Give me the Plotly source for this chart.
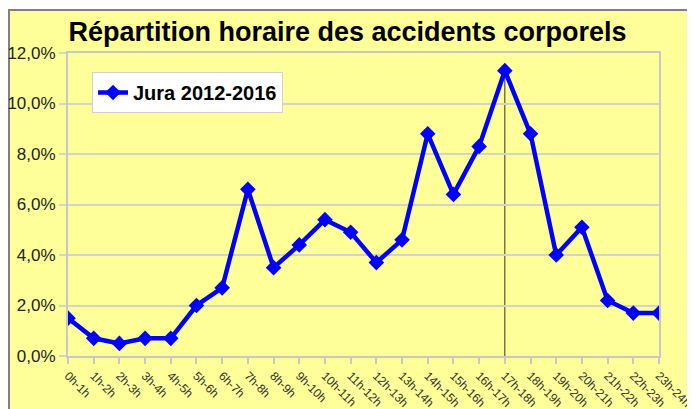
import plotly.graph_objects as go

categories = ["0h-1h", "1h-2h", "2h-3h", "3h-4h", "4h-5h", "5h-6h", "6h-7h", "7h-8h",
              "8h-9h", "9h-10h", "10h-11h", "11h-12h", "12h-13h", "13h-14h", "14h-15h",
              "15h-16h", "16h-17h", "17h-18h", "18h-19h", "19h-20h", "20h-21h", "21h-22h",
              "22h-23h", "23h-24h"]
values = [1.5, 0.7, 0.5, 0.7, 0.7, 2.0, 2.7, 6.6, 3.5, 4.4, 5.4, 4.9, 3.7, 4.6, 8.8,
          6.4, 8.3, 11.3, 8.8, 4.0, 5.1, 2.2, 1.7, 1.7]
series_name = "Jura 2012-2016"
title_text = "Répartition horaire des accidents corporels"
y_ticks = [0, 2, 4, 6, 8, 10, 12]
y_ticklabels = ["0,0%", "2,0%", "4,0%", "6,0%", "8,0%", "10,0%", "12,0%"]

W, H = 695, 409
OFF = 8  # page body margin offset
ML, MT = 68 - OFF, 53 - OFF
pw, ph = 591, 303
MR = W - ML - pw
MB = H - MT - ph

def px_x(p):
    return (p - OFF - ML) / pw

def px_y(p):
    return (MT + ph - (p - OFF)) / ph

peak_idx = values.index(max(values))

fig = go.Figure()
fig.add_trace(go.Scatter(
    x=categories, y=values, mode="lines+markers", name="<b>" + series_name + "</b>",
    line=dict(color="#0000ff", width=4.5),
    marker=dict(symbol="diamond", size=12, color="#0000ff"),
))

shapes = [
    dict(type="rect", xref="paper", yref="paper", layer="below",
         x0=px_x(8), x1=px_x(W + 20), y0=px_y(H + 20), y1=px_y(10),
         fillcolor="#ffff99", line=dict(width=0)),
    dict(type="line", xref="paper", yref="paper", layer="below",
         x0=px_x(9), x1=px_x(9), y0=px_y(H + 20), y1=px_y(10),
         line=dict(color="#808080", width=2)),
    dict(type="line", xref="paper", yref="paper", layer="below",
         x0=px_x(8), x1=px_x(W + 20), y0=px_y(10), y1=px_y(10),
         line=dict(color="#808080", width=2)),
    dict(type="line", xref="x", yref="y", layer="below",
         x0=categories[peak_idx], x1=categories[peak_idx], y0=-0.45, y1=values[peak_idx],
         line=dict(color="#333333", width=1)),
]

fig.update_layout(
    width=W, height=H,
    margin=dict(l=ML, r=MR, t=MT, b=MB, autoexpand=False),
    paper_bgcolor="white",
    plot_bgcolor="rgba(0,0,0,0)",
    shapes=shapes,
    font=dict(family="Liberation Sans, Arial, sans-serif", color="#222222"),
    title=dict(text="<b>" + title_text + "</b>", x=(347.5 - OFF) / W, xanchor="center",
               xref="container", y=1 - (32 - OFF) / H, yanchor="middle",
               font=dict(size=27, color="#000000")),
    showlegend=True,
    legend=dict(x=px_x(92), y=px_y(72), xanchor="left", yanchor="top",
                bgcolor="white", bordercolor="#d0d0d0", borderwidth=1,
                font=dict(size=20, color="#000000", family="Liberation Sans, Arial, sans-serif"),
                itemwidth=30, tracegroupgap=0),
)

fig.update_xaxes(
    type="category", range=[0, len(categories) - 1], automargin=False,
    showgrid=False, showline=True, linecolor="#c8c8c8", linewidth=2, mirror=True,
    ticks="outside", ticklen=6, tickcolor="#c8c8c8", tickwidth=2,
    tickangle=45, tickfont=dict(size=12, color="#333333"),
)
fig.update_yaxes(
    range=[0, 12], tickvals=y_ticks, ticktext=y_ticklabels, automargin=False,
    showgrid=True, gridcolor="#d4d4c8", gridwidth=2,
    showline=True, linecolor="#c8c8c8", linewidth=2, mirror=True,
    ticks="outside", ticklen=7, tickcolor="#d4d4c8", tickwidth=2,
    tickfont=dict(size=17, color="#222222"), zeroline=False,
)

fig.write_html("out.html")
